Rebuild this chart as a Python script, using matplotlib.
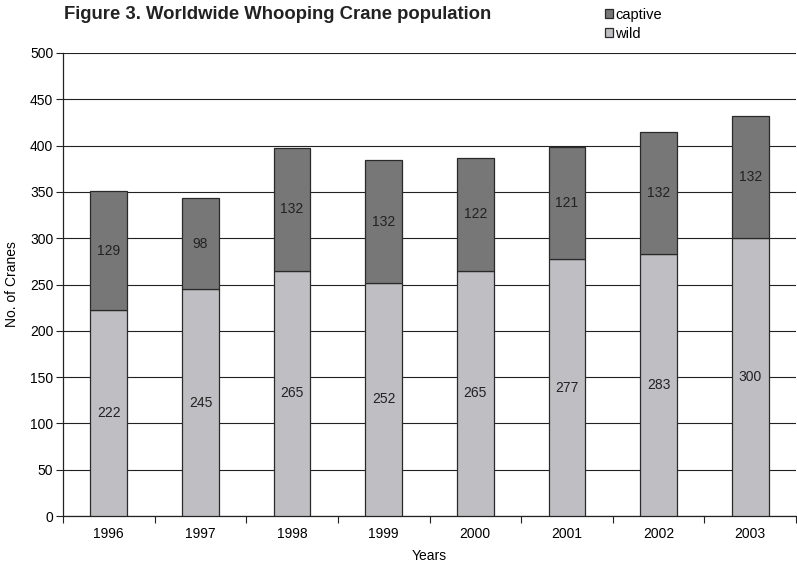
import matplotlib
matplotlib.use("Agg")
import matplotlib.pyplot as plt
import numpy as np

plt.rcParams['font.family'] = ['Liberation Sans', 'DejaVu Sans']

# data
years = ['1996', '1997', '1998', '1999', '2000', '2001', '2002', '2003']
wild = [222, 245, 265, 252, 265, 277, 283, 300]
captive = [129, 98, 132, 132, 122, 121, 132, 132]

wild_color = '#bfbfc3'
captive_color = '#777777'
edge = '#2a2a2a'

fig = plt.figure(figsize=(7.97, 5.65), dpi=100)
ax = fig.add_axes([63 / 797, 1 - 516 / 565, 733 / 797, 463 / 565])

x = np.arange(len(years))
w = 0.4
ax.bar(x, wild, w, color=wild_color, edgecolor=edge, linewidth=0.9, zorder=3, label='wild')
ax.bar(x, captive, w, bottom=wild, color=captive_color, edgecolor=edge, linewidth=0.9,
       zorder=3, label='captive')

for xi, wv, cv in zip(x, wild, captive):
    ax.text(xi, wv / 2, str(wv), ha='center', va='center', fontsize=10, color='#222222', zorder=4)
    ax.text(xi, wv + cv / 2, str(cv), ha='center', va='center', fontsize=10, color='#222222', zorder=4)

ax.set_xlim(-0.5, len(years) - 0.5)
ax.set_ylim(0, 500)
ax.set_yticks(np.arange(0, 501, 50))
ax.yaxis.grid(True, color='#222222', linewidth=0.8, zorder=1)
ax.set_axisbelow(True)

# ticks between categories on x
ax.set_xticks(np.arange(-0.5, len(years), 1))
ax.set_xticklabels([])
ax.set_xticks(x, minor=True)
ax.set_xticklabels(years, minor=True)
ax.tick_params(axis='x', which='minor', length=0, labelsize=10, pad=8)
ax.tick_params(axis='x', which='major', length=5, width=0.8, color='#222222')
ax.tick_params(axis='y', length=5, width=0.8, labelsize=10, pad=2, color='#222222')

for s in ['top', 'right']:
    ax.spines[s].set_visible(False)
for s in ['left', 'bottom']:
    ax.spines[s].set_color('#222222')
    ax.spines[s].set_linewidth(0.9)

ax.set_ylabel('No. of Cranes', fontsize=10, labelpad=8)
ax.set_xlabel('Years', fontsize=10, labelpad=6)

fig.text(64 / 797, 1 - 19 / 565, 'Figure 3. Worldwide Whooping Crane population',
         fontsize=13.3, fontweight='bold', va='baseline', ha='left', color='#222222')

handles, labels = ax.get_legend_handles_labels()
fig.legend(handles[::-1], labels[::-1], loc='upper left', bbox_to_anchor=(605 / 797, 1 - 8 / 565),
           frameon=False, fontsize=10.5, handlelength=0.55, handleheight=0.55, handletextpad=0.15,
           labelspacing=0.32, borderaxespad=0, borderpad=0)

fig.savefig('out.png', dpi=100)
